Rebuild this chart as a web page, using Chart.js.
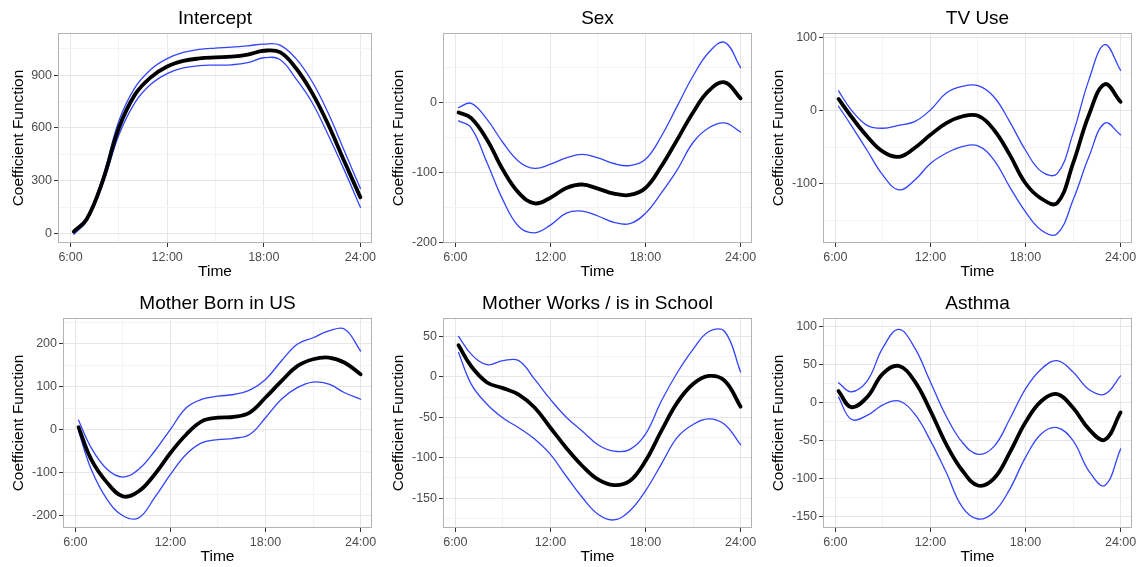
<!DOCTYPE html>
<html><head><meta charset="utf-8">
<script src="https://cdn.jsdelivr.net/npm/chart.js@4.4.1/dist/chart.umd.min.js"></script>
<style>
html,body{margin:0;padding:0;background:#fff;width:1137px;height:567px;overflow:hidden;position:relative}
canvas{position:absolute}
</style></head><body>
<script>
// ---------- data ----------
const hours = [6.2, 7, 8, 9, 10, 11, 12, 13, 14, 15, 16, 17, 18, 19, 20, 21, 22, 23, 24];
const xTickValues = [6, 12, 18, 24];
const xTickLabels = ['6:00', '12:00', '18:00', '24:00'];
const xMinorValues = [9, 15, 21];
const panelTitles = ['Intercept', 'Sex', 'TV Use', 'Mother Born in US', 'Mother Works / is in School', 'Asthma'];
const yAxisTitle = 'Coefficient Function';
const xAxisTitle = 'Time';

const interceptMean  = [10, 80, 300, 600, 790, 890, 950, 982, 996, 1002, 1006, 1018, 1040, 1032, 940, 800, 620, 410, 205];
const interceptUpper = [15, 90, 320, 640, 830, 935, 995, 1030, 1048, 1055, 1060, 1068, 1078, 1072, 995, 865, 685, 470, 255];
const interceptLower = [-5, 70, 280, 560, 745, 850, 910, 942, 955, 958, 960, 972, 1000, 990, 880, 745, 560, 360, 148];
const interceptYTicks = [0, 300, 600, 900];
const interceptYMinor = [150, 450, 750, 1050];

const sexMean  = [-14, -22, -53, -96, -129, -144, -136, -122, -117, -123, -130, -132, -122, -91, -53, -14, 17, 29, 6];
const sexUpper = [-7, -1, -24, -57, -84, -94, -88, -79, -74, -79, -87, -90, -81, -48, -5, 38, 72, 86, 50];
const sexLower = [-26, -36, -86, -139, -177, -186, -175, -158, -155, -162, -171, -173, -158, -129, -96, -57, -36, -29, -42];
const sexYTicks = [-200, -100, 0];
const sexYMinor = [-150, -50, 50];

const tvMean  = [16, -8, -35, -56, -63, -51, -33, -17, -8, -7, -26, -60, -99, -120, -126, -72, -6, 36, 12];
const tvUpper = [27, 1, -20, -24, -20, -15, 1, 24, 33, 34, 19, -15, -54, -83, -86, -31, 42, 90, 55];
const tvLower = [6, -20, -54, -88, -108, -95, -72, -58, -49, -48, -67, -104, -138, -163, -168, -122, -63, -17, -33];
const tvYTicks = [-100, 0, 100];
const tvYMinor = [-150, -50, 50];

const usMean  = [6, -69, -123, -155, -143, -104, -54, -11, 20, 28, 30, 40, 75, 113, 148, 164, 168, 156, 129];
const usUpper = [22, -42, -92, -110, -92, -50, 1, 51, 71, 78, 82, 92, 117, 160, 199, 214, 230, 234, 183];
const usLower = [-3, -92, -162, -200, -205, -158, -104, -57, -30, -23, -20, -11, 28, 71, 98, 111, 106, 86, 71];
const usYTicks = [-200, -100, 0, 100, 200];
const usYMinor = [-150, -50, 50, 150, 250];

const workMean  = [39, 13, -7, -14, -22, -38, -63, -88, -110, -127, -134, -129, -104, -67, -32, -9, 1, -5, -37];
const workUpper = [50, 28, 15, 20, 20, -3, -28, -50, -67, -84, -92, -90, -71, -30, 5, 34, 56, 56, 6];
const workLower = [30, -9, -34, -51, -63, -77, -96, -123, -149, -170, -177, -166, -141, -108, -75, -59, -52, -59, -84];
const workYTicks = [-150, -100, -50, 0, 50];
const workYMinor = [-175, -125, -75, -25, 25];

const asthmaMean  = [15, -6, 7, 38, 48, 28, -11, -55, -89, -109, -100, -66, -26, 2, 11, -7, -35, -49, -13];
const asthmaUpper = [26, 14, 28, 72, 96, 72, 27, -18, -52, -68, -58, -22, 18, 44, 55, 40, 17, 11, 35];
const asthmaLower = [7, -22, -17, -3, 2, -15, -50, -92, -137, -153, -144, -114, -72, -41, -33, -50, -90, -109, -61];
const asthmaYTicks = [-150, -100, -50, 0, 50, 100];
const asthmaYMinor = [-125, -75, -25, 25, 75];

// ---------- layout / style ----------
const FONT = "'Liberation Sans', Arial, Helvetica, sans-serif";
const panels = [
  {title: panelTitles[0], mean: interceptMean, upper: interceptUpper, lower: interceptLower, yMajor: interceptYTicks, yMinor: interceptYMinor, yMin: -55, yMax: 1141, left: 58},
  {title: panelTitles[1], mean: sexMean, upper: sexUpper, lower: sexLower, yMajor: sexYTicks, yMinor: sexYMinor, yMin: -200.6, yMax: 99.5, left: 63},
  {title: panelTitles[2], mean: tvMean, upper: tvUpper, lower: tvLower, yMajor: tvYTicks, yMinor: tvYMinor, yMin: -180.5, yMax: 105.9, left: 63},
  {title: panelTitles[3], mean: usMean, upper: usUpper, lower: usLower, yMajor: usYTicks, yMinor: usYMinor, yMin: -228.6, yMax: 260, left: 63},
  {title: panelTitles[4], mean: workMean, upper: workUpper, lower: workLower, yMajor: workYTicks, yMinor: workYMinor, yMin: -187, yMax: 72.7, left: 63},
  {title: panelTitles[5], mean: asthmaMean, upper: asthmaUpper, lower: asthmaLower, yMajor: asthmaYTicks, yMinor: asthmaYMinor, yMin: -164.8, yMax: 111, left: 63}
];

const borderPlugin = {
  id: 'panelBorder',
  afterDraw(chart) {
    const a = chart.chartArea, c = chart.ctx;
    c.save();
    c.strokeStyle = '#b3b3b3';
    c.lineWidth = 1;
    c.strokeRect(Math.round(a.left) + 0.5, Math.round(a.top) + 0.5,
                 Math.round(a.right - a.left) - 1, Math.round(a.bottom - a.top) - 1);
    c.restore();
  }
};

const BLUE = '#3344ff';

panels.forEach((spec, i) => {
  const cv = document.createElement('canvas');
  cv.width = 380; cv.height = 285;
  cv.style.left = (i % 3) * 380 + 'px';
  cv.style.top = Math.floor(i / 3) * 285 + 'px';
  document.body.appendChild(cv);

  const xMajor = new Set(xTickValues);
  const yMajor = new Set(spec.yMajor);
  const allX = [...xTickValues, ...xMinorValues].sort((a, b) => a - b);
  const allY = [...spec.yMajor, ...spec.yMinor].filter(v => v >= spec.yMin && v <= spec.yMax).sort((a, b) => a - b);
  const pts = arr => hours.map((h, k) => ({x: h, y: arr[k]}));

  new Chart(cv, {
    type: 'line',
    data: {datasets: [
      {data: pts(spec.mean), borderColor: '#000000', borderWidth: 3.8, order: 0},
      {data: pts(spec.upper), borderColor: BLUE, borderWidth: 1.3, order: 1},
      {data: pts(spec.lower), borderColor: BLUE, borderWidth: 1.3, order: 1}
    ]},
    options: {
      responsive: false, animation: false, devicePixelRatio: 1,
      layout: {padding: {left: 0, right: 8, top: 0, bottom: 0}},
      elements: {point: {radius: 0}, line: {tension: 0.4, fill: false, borderCapStyle: 'round', borderJoinStyle: 'round'}},
      plugins: {
        legend: {display: false}, tooltip: {enabled: false},
        title: {display: true, fullSize: false, text: spec.title, color: '#000',
                font: {family: FONT, size: 19, weight: 'normal'}, padding: {top: 7.5, bottom: 2.7}}
      },
      scales: {
        x: {
          type: 'linear', min: 5.22, max: 24.72,
          afterBuildTicks: s => { s.ticks = allX.map(v => ({value: v})); },
          afterFit: s => { s.height = 42; s.paddingLeft = 0; s.paddingRight = 0; s.paddingTop = 0; s.paddingBottom = 0; },
          ticks: {autoSkip: false, maxRotation: 0, padding: 3, color: '#4d4d4d',
                  font: {family: FONT, size: 12.5},
                  callback: v => { const k = xTickValues.indexOf(v); return k >= 0 ? xTickLabels[k] : ''; }},
          grid: {
            color: c => (c.tick && xMajor.has(c.tick.value)) ? '#e6e6e6' : '#f3f3f3',
            lineWidth: 1, tickLength: 4, tickWidth: 1,
            tickColor: c => (c.tick && xMajor.has(c.tick.value)) ? '#333333' : 'rgba(0,0,0,0)'
          },
          border: {display: false},
          title: {display: true, text: xAxisTitle, color: '#000', font: {family: FONT, size: 15.5}, padding: {top: 0, bottom: 3.7}}
        },
        y: {
          type: 'linear', min: spec.yMin, max: spec.yMax,
          afterBuildTicks: s => { s.ticks = allY.map(v => ({value: v})); },
          afterFit: s => { s.width = spec.left; s.paddingTop = 0; s.paddingBottom = 0; s.paddingLeft = 0; s.paddingRight = 0; },
          ticks: {autoSkip: false, padding: 2, color: '#4d4d4d',
                  font: {family: FONT, size: 12.5},
                  callback: v => yMajor.has(v) ? String(v) : ''},
          grid: {
            color: c => (c.tick && yMajor.has(c.tick.value)) ? '#e6e6e6' : '#f3f3f3',
            lineWidth: 1, tickLength: 4, tickWidth: 1,
            tickColor: c => (c.tick && yMajor.has(c.tick.value)) ? '#333333' : 'rgba(0,0,0,0)'
          },
          border: {display: false},
          title: {display: true, text: yAxisTitle, color: '#000', font: {family: FONT, size: 15.5}, padding: {top: 9.7, bottom: 0}}
        }
      }
    },
    plugins: [borderPlugin]
  });
});
</script>
</body></html>
